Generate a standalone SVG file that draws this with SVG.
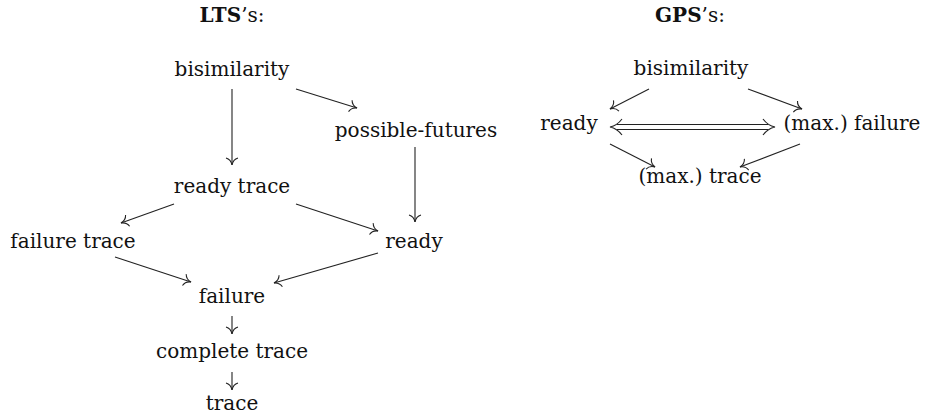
<svg xmlns="http://www.w3.org/2000/svg" width="930" height="418" viewBox="0 0 930 418">
<style>
text{font-family:"DejaVu Serif","Liberation Serif",serif;font-size:20px;fill:#111;text-anchor:middle}
.b{font-weight:bold}
.e{fill:none;stroke:#222;stroke-width:1.1}
</style>
<defs>
<marker id="to" markerUnits="userSpaceOnUse" markerWidth="20" markerHeight="20" viewBox="-10 -10 20 20" refX="0" refY="0" orient="auto">
<path d="M-7,-6 C-6,-2.5 -2.5,-0.5 0,0 C-2.5,0.5 -6,2.5 -7,6" fill="none" stroke="#222" stroke-width="1.1"/>
</marker>
</defs>
<rect width="930" height="418" fill="#fff"/>
<g id="title-lts"><text x="232" y="22"><tspan class="b">LTS</tspan>’s:</text></g>
<g id="title-gps"><text x="690" y="22"><tspan class="b">GPS</tspan>’s:</text></g>
<g id="lts-bisim"><text x="232" y="76">bisimilarity</text></g>
<g id="lts-pf"><text x="416" y="137">possible-futures</text></g>
<g id="lts-rt"><text x="232" y="193">ready trace</text></g>
<g id="lts-ft"><text x="73" y="248">failure trace</text></g>
<g id="lts-ready"><text x="414" y="248">ready</text></g>
<g id="lts-failure"><text x="232" y="303">failure</text></g>
<g id="lts-ct"><text x="232" y="358">complete trace</text></g>
<g id="lts-trace"><text x="232" y="410">trace</text></g>
<g id="gps-bisim"><text x="691" y="75">bisimilarity</text></g>
<g id="gps-ready"><text x="569" y="130">ready</text></g>
<g id="gps-failure"><text x="852" y="130">(max.) failure</text></g>
<g id="gps-trace"><text x="700" y="183">(max.) trace</text></g>
<g id="connectors">
<line class="e" x1="232" y1="89" x2="232" y2="165" marker-end="url(#to)"/>
<line class="e" x1="296" y1="89" x2="357" y2="108" marker-end="url(#to)"/>
<line class="e" x1="415" y1="147" x2="415" y2="222" marker-end="url(#to)"/>
<line class="e" x1="174" y1="204" x2="121" y2="223" marker-end="url(#to)"/>
<line class="e" x1="296" y1="204" x2="378" y2="231" marker-end="url(#to)"/>
<line class="e" x1="115" y1="257" x2="191" y2="282" marker-end="url(#to)"/>
<line class="e" x1="378" y1="253" x2="274" y2="283" marker-end="url(#to)"/>
<line class="e" x1="232" y1="316" x2="232" y2="334" marker-end="url(#to)"/>
<line class="e" x1="232" y1="372" x2="232" y2="390" marker-end="url(#to)"/>
<line class="e" x1="649" y1="89" x2="610" y2="109" marker-end="url(#to)"/>
<line class="e" x1="748" y1="89" x2="802" y2="109" marker-end="url(#to)"/>
<line class="e" x1="610" y1="144" x2="655" y2="167" marker-end="url(#to)"/>
<line class="e" x1="800" y1="144" x2="740" y2="167" marker-end="url(#to)"/>
<line class="e" x1="617" y1="124.5" x2="768" y2="124.5"/>
<line class="e" x1="617" y1="129.5" x2="768" y2="129.5"/>
<path class="e" d="M622,119 C619,123 615,126 610,127 C615,128 619,131 622,135"/>
<path class="e" d="M763,119 C766,123 770,126 775,127 C770,128 766,131 763,135"/>
</g>
</svg>
